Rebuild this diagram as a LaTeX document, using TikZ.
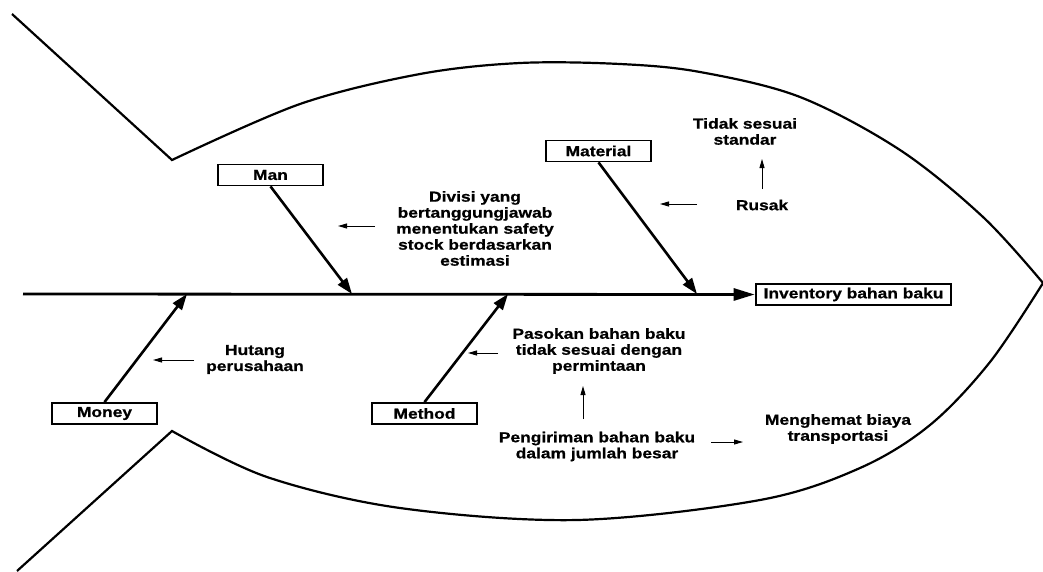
\documentclass[tikz,border=0pt]{standalone}
\usepackage{fontspec}
\setmainfont{Liberation Sans}[FakeStretch=1.2]
\newfontfamily\arbold{Liberation Sans Bold}[FakeStretch=1.2, FakeBold=0.8]
\usetikzlibrary{arrows.meta}
\begin{document}
\begin{tikzpicture}[x=1pt,y=-1pt,
  txt/.style={font=\arbold\fontsize{14.5}{16}\selectfont, align=center, inner sep=0pt},
  catbox/.style={txt, draw, line width=1.8pt, minimum width=105pt, minimum height=21pt},
  headbox/.style={txt, draw, line width=2.6pt, minimum width=195pt, minimum height=21pt},
  bone/.style={line width=2.6pt, -{Triangle[length=16pt,width=11pt]}},
  spine/.style={line width=2.8pt, -{Triangle[length=21pt,width=12pt]}},
  cause/.style={line width=0.9pt, -{Triangle[length=9pt,width=5pt]}},
  outline/.style={line width=2.2pt, line join=miter}]
\useasboundingbox (0,0) rectangle (1043,571);

% fish outline
\draw[outline] (12,14) -- (172,160) -- plot[smooth, tension=0.55] coordinates {(172,160) (300,104) (420,74) (520,63) (620,64) (700,72) (800,97) (900,150) (983,217) (1043,283)};
\draw[outline] (17,571) -- (172,431) -- plot[smooth, tension=0.55] coordinates {(172,431) (267,477) (400,508) (577,520) (760,500) (860,468) (930,425) (990,362) (1043,283)};

% head and spine
\node[headbox] (inv) at (853.5,294.5) {Inventory bahan baku};
\coordinate (spL) at (23,294);
\draw[spine] (spL) -- (inv.west);

% category boxes
\node[catbox] (man) at (270.5,175) {Man};
\node[catbox] (mat) at (598.5,151) {Material};
\node[catbox] (mon) at (104.5,413.5) {Money};
\node[catbox] (met) at (424.5,413.5) {Method};

\coordinate (manT) at (352,294);
\coordinate (matT) at (697,294);
\coordinate (monT) at (187,294);
\coordinate (metT) at (508,294);
\draw[bone] (man.south) -- (manT);
\draw[bone] (mat.south) -- (matT);
\draw[bone] (mon.north) -- (monT);
\draw[bone] (met.north) -- (metT);

% cause texts
\node[txt] (divisi) at (475,228.5) {Divisi yang\\bertanggungjawab\\menentukan safety\\stock berdasarkan\\estimasi};
\node[txt] (tidak) at (745,131.5) {Tidak sesuai\\standar};
\node[txt] (rusak) at (762,205) {Rusak};
\node[txt] (hutang) at (255,359.5) {Hutang\\perusahaan};
\node[txt] (pasokan) at (599,351) {Pasokan bahan baku\\tidak sesuai dengan\\permintaan};
\node[txt] (kirim) at (597,446.5) {Pengiriman bahan baku\\dalam jumlah besar};
\node[txt] (hemat) at (838,429) {Menghemat biaya\\transportasi};

% small arrows
\coordinate (a1s) at (375,226); \coordinate (a1e) at (338,226);
\coordinate (a2s) at (697,204); \coordinate (a2e) at (660,204);
\coordinate (a3s) at (762,189); \coordinate (a3e) at (762,159);
\coordinate (a4s) at (194,360); \coordinate (a4e) at (153,360);
\coordinate (a5s) at (498,353); \coordinate (a5e) at (468,353);
\coordinate (a6s) at (583,419); \coordinate (a6e) at (583,386);
\coordinate (a7s) at (711,442); \coordinate (a7e) at (743,442);
\draw[cause] (a1s) -- (a1e);
\draw[cause] (a2s) -- (a2e);
\draw[cause] (a3s) -- (a3e);
\draw[cause] (a4s) -- (a4e);
\draw[cause] (a5s) -- (a5e);
\draw[cause] (a6s) -- (a6e);
\draw[cause] (a7s) -- (a7e);
\end{tikzpicture}
\end{document}
